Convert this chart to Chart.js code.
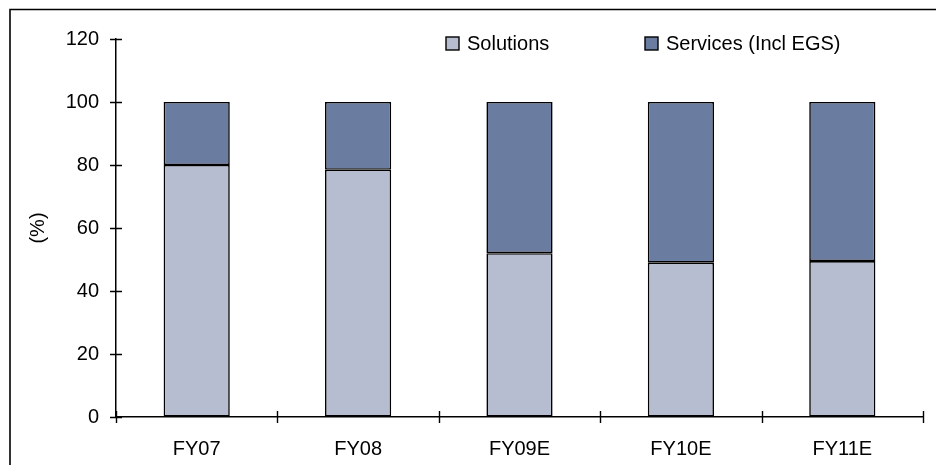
<!DOCTYPE html>
<html>
<head>
<meta charset="utf-8">
<script src="https://cdn.jsdelivr.net/npm/chart.js@4/dist/chart.umd.min.js"></script>
<style>
  html, body { margin: 0; padding: 0; background: #fff; }
  #wrap { width: 936px; height: 465px; position: relative; }
</style>
</head>
<body>
<div id="wrap"><canvas id="c" width="936" height="465"></canvas></div>
<script>
// Revenue mix by fiscal year (%)
const categories = ['FY07', 'FY08', 'FY09E', 'FY10E', 'FY11E'];
const solutions = [80, 78.5, 52, 49, 49.5];
const services = [20, 21.5, 48, 51, 50.5];
const seriesNames = ['Solutions', 'Services (Incl EGS)'];
const yTicks = [0, 20, 40, 60, 80, 100, 120];

const FONT = 'Liberation Sans, Arial, sans-serif';
const FONT_SIZE = 20;
const colors = ['#B7BDD1', '#6A7DA0'];

// Outer frame, cross-style tick marks and a top-right legend
const decorations = {
  id: 'decorations',
  afterDraw(chart) {
    const ctx = chart.ctx;
    const area = chart.chartArea;
    const xs = chart.scales.x, ys = chart.scales.y;
    ctx.save();
    // frame (top and left edges)
    ctx.strokeStyle = '#000';
    ctx.lineWidth = 1.6;
    ctx.beginPath();
    ctx.moveTo(10, chart.height);
    ctx.lineTo(10, 9.5);
    ctx.lineTo(chart.width, 9.5);
    ctx.stroke();

    // y ticks crossing the axis
    ctx.lineWidth = 1.4;
    ctx.beginPath();
    yTicks.forEach(v => {
      const y = Math.round(ys.getPixelForValue(v)) + 0.5;
      ctx.moveTo(area.left - 6, y);
      ctx.lineTo(area.left + 6, y);
    });
    // x ticks at category boundaries
    const n = categories.length;
    for (let i = 0; i <= n; i++) {
      let x;
      if (i === 0) x = area.left;
      else if (i === n) x = area.right;
      else x = (xs.getPixelForValue(i - 1) + xs.getPixelForValue(i)) / 2;
      x = Math.round(x) + 0.5;
      ctx.moveTo(x, area.bottom - 6);
      ctx.lineTo(x, area.bottom + 6);
    }
    ctx.stroke();

    // legend
    const items = [
      { x: 446, label: seriesNames[0], color: colors[0] },
      { x: 645, label: seriesNames[1], color: colors[1] }
    ];
    const cy = 43.5;
    ctx.font = FONT_SIZE + 'px ' + FONT;
    ctx.textBaseline = 'middle';
    ctx.textAlign = 'left';
    items.forEach(it => {
      ctx.fillStyle = it.color;
      ctx.fillRect(it.x, cy - 6.5, 13, 13);
      ctx.strokeStyle = '#000';
      ctx.lineWidth = 1.4;
      ctx.strokeRect(it.x, cy - 6.5, 13, 13);
      ctx.fillStyle = '#000';
      ctx.fillText(it.label, it.x + 21, cy + 1);
    });
    ctx.restore();
  }
};

new Chart(document.getElementById('c'), {
  type: 'bar',
  data: {
    labels: categories,
    datasets: [
      { label: seriesNames[0], data: solutions, backgroundColor: colors[0],
        borderColor: '#000', borderWidth: 1.6, borderSkipped: false,
        barPercentage: 0.41, categoryPercentage: 1 },
      { label: seriesNames[1], data: services, backgroundColor: colors[1],
        borderColor: '#000', borderWidth: 1.6, borderSkipped: false,
        barPercentage: 0.41, categoryPercentage: 1 }
    ]
  },
  options: {
    responsive: false,
    animation: false,
    layout: { padding: { top: 39, right: 13, left: 0, bottom: 0 } },
    plugins: {
      legend: { display: false },
      tooltip: { enabled: false }
    },
    scales: {
      x: {
        stacked: true,
        grid: { display: true, drawOnChartArea: false, drawTicks: false },
        border: { display: true, color: '#000', width: 1.5 },
        ticks: { color: '#000', font: { family: FONT, size: FONT_SIZE }, padding: 20 },
        afterFit(scale) { scale.height = 48; }
      },
      y: {
        stacked: true,
        min: 0, max: 120,
        afterBuildTicks(scale) { scale.ticks = yTicks.map(v => ({ value: v })); },
        grid: { display: true, drawOnChartArea: false, drawTicks: false },
        border: { display: true, color: '#000', width: 1.5 },
        ticks: { color: '#000', font: { family: FONT, size: FONT_SIZE }, padding: 17 },
        title: { display: true, text: '(%)', color: '#000',
                 font: { family: FONT, size: FONT_SIZE }, padding: { top: 26, bottom: 0 } },
        afterFit(scale) { scale.width = 116; }
      }
    }
  },
  plugins: [decorations]
});
</script>
</body>
</html>
